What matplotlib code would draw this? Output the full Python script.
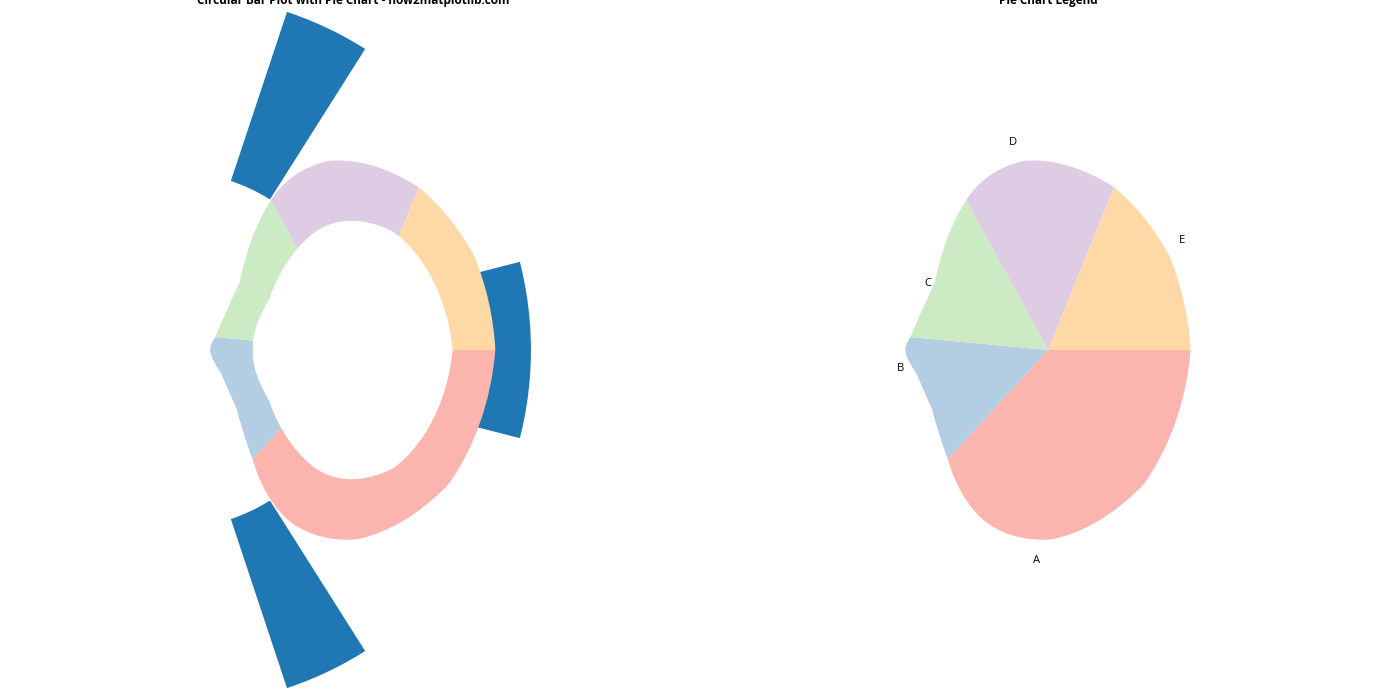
import matplotlib.pyplot as plt
import numpy as np

categories = ['A', 'B', 'C', 'D', 'E']
values = [30, 25, 20, 15, 10]
bar_values = [30, 25, 20, 15, 10]

plt.rcParams['font.family'] = ['Open Sans', 'DejaVu Sans']

colors = plt.cm.Pastel1(np.arange(len(categories)))
angles = np.linspace(0, 2 * np.pi, len(categories), endpoint=False)

fig, (ax1, ax2) = plt.subplots(1, 2, figsize=(14, 7), subplot_kw=dict(projection='polar'))

# circular bars, then a donut pie on the same polar axes
ax1.bar(angles, bar_values, width=0.5, bottom=0, color='#1f77b4')
ax1.pie(values, colors=colors, startangle=90, textprops={'fontsize': 8})
centre_circle = plt.Circle((0, 0), 0.70, fc='white')
ax1.add_artist(centre_circle)
ax1.set_title('Circular Bar Plot with Pie Chart - how2matplotlib.com', fontweight='bold', fontsize=8.5)

ax2.pie(values, labels=categories, colors=colors, startangle=90, textprops={'fontsize': 8})
ax2.set_title('Pie Chart Legend', fontweight='bold', fontsize=8.5)

plt.subplots_adjust(left=0.01, right=0.9906, bottom=0.017, top=0.983, wspace=0.026)
plt.savefig('out.png', dpi=100)
